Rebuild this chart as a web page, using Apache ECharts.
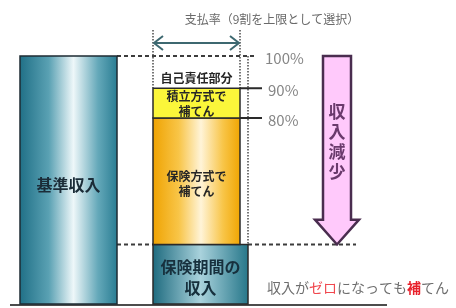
<!DOCTYPE html>
<html>
<head>
<meta charset="utf-8">
<script src="https://cdn.jsdelivr.net/npm/echarts@6/dist/echarts.min.js"></script>
<style>
  html, body { margin: 0; padding: 0; background: #fff; }
  #chart { width: 456px; height: 308px; }
</style>
</head>
<body>
<div id="chart"></div>
<script>
// diagram levels (not to scale): 100 = top of base income
const baseLabel = '基準収入';
const baseValue = 100;
const stackLabels = ['保険期間の\n収入', '保険方式で\n補てん', '積立方式で\n補てん', '自己責任部分'];
const stackValues = [24, 51, 12, 13];
const rateLabels = ['100%', '90%', '80%'];
const rateLevels = [100, 87, 75];
const topNote = '支払率（9割を上限として選択）';
const arrowLabel = '収入減少';

const FONT = '"Noto Sans CJK JP", "Noto Sans", sans-serif';
const G = echarts.graphic;

// cumulative stack
let acc = 0;
const stackData = stackValues.map((v, i) => {
  const lo = acc; acc += v;
  return [i, lo, acc];
});
const zeroLevel = stackValues[0];

// horizontal layout (x axis in px-like units)
const baseX = [20, 117];
const stackX = [[153, 248], [153, 240], [153, 240], [153, 240]];

const tealGrad = () => new G.LinearGradient(0, 0, 1, 0, [
  { offset: 0, color: '#1f6f86' },
  { offset: 0.3, color: '#5aa1b3' },
  { offset: 0.55, color: '#eef7f9' },
  { offset: 0.8, color: '#64a8b9' },
  { offset: 1, color: '#287c92' }
]);
const tealGradDark = () => new G.LinearGradient(0, 0, 1, 0, [
  { offset: 0, color: '#1d6a7e' },
  { offset: 0.5, color: '#a9d2dc' },
  { offset: 1, color: '#257689' }
]);
const orangeGrad = () => new G.LinearGradient(0, 0, 1, 0, [
  { offset: 0, color: '#efa200' },
  { offset: 0.3, color: '#f8c548' },
  { offset: 0.55, color: '#fff4d8' },
  { offset: 0.8, color: '#f8c548' },
  { offset: 1, color: '#f1a500' }
]);
const stackFills = [tealGradDark, orangeGrad, () => '#fbf63a', null];
const stackFont = [
  'bold 16px ' + FONT,
  'bold 12px ' + FONT,
  'bold 12px ' + FONT,
  'bold 12px ' + FONT
];
const stackTextOffset = [3, 3, 1, 6];

function renderBase(params, api) {
  const p0 = api.coord([baseX[0], api.value(1)]);
  const p1 = api.coord([baseX[1], 0]);
  return {
    type: 'group',
    children: [
      {
        type: 'rect',
        shape: { x: p0[0], y: p0[1], width: p1[0] - p0[0], height: p1[1] - p0[1] },
        style: { fill: tealGrad(), stroke: '#1e2b33', lineWidth: 1.5 }
      },
      {
        type: 'text',
        style: {
          text: baseLabel, x: (p0[0] + p1[0]) / 2, y: (p0[1] + p1[1]) / 2 + 5,
          align: 'center', verticalAlign: 'middle',
          font: 'bold 16px ' + FONT, fill: '#1b2c38'
        }
      }
    ]
  };
}

function renderStack(params, api) {
  const i = api.value(0);
  const xr = stackX[i];
  const p0 = api.coord([xr[0], api.value(2)]);
  const p1 = api.coord([xr[1], api.value(1)]);
  const children = [];
  if (stackFills[i]) {
    children.push({
      type: 'rect',
      shape: { x: p0[0], y: p0[1], width: p1[0] - p0[0], height: p1[1] - p0[1] },
      style: { fill: stackFills[i](), stroke: '#2a2a2a', lineWidth: 1.5 }
    });
  }
  children.push({
    type: 'text',
    style: {
      text: stackLabels[i], x: (p0[0] + p1[0]) / 2, y: (p0[1] + p1[1]) / 2 + stackTextOffset[i],
      align: 'center', verticalAlign: 'middle', lineHeight: i === 0 ? 21 : 15,
      font: stackFont[i], fill: i === 0 ? '#17303d' : '#262626'
    }
  });
  return { type: 'group', children };
}

function renderGuides(params, api) {
  const top = api.coord([0, baseValue])[1];
  const zeroY = api.coord([0, zeroLevel])[1];
  const bottom = api.coord([0, 0])[1];
  const x = v => api.coord([v, 0])[0];
  const dash = { stroke: '#3c3c3c', lineWidth: 2, lineDash: [4, 3] };
  const dots = { stroke: '#4a4a4a', lineWidth: 1.5, lineDash: [1.5, 1.5] };
  const line = (x1, y1, x2, y2, style) => ({ type: 'line', shape: { x1, y1, x2, y2 }, style });
  const children = [];

  // baseline
  children.push(line(x(10), bottom + 1, x(387), bottom + 1, { stroke: '#111', lineWidth: 1.5 }));
  // dashed level lines
  children.push(line(x(117), top, x(256), top, dash));
  children.push(line(x(117), zeroY, x(153), zeroY, dash));
  children.push(line(x(248), zeroY, x(356), zeroY, dash));
  // dotted verticals
  const y90 = api.coord([0, rateLevels[1]])[1];
  children.push(line(x(153), 30, x(153), y90, dots));
  children.push(line(x(240), 30, x(240), y90, dots));
  children.push(line(x(248), top, x(248), zeroY, dots));
  // double arrow
  const ay = 43, ac = '#3d6870';
  children.push(line(x(154), ay, x(239), ay, { stroke: ac, lineWidth: 2 }));
  children.push({ type: 'polyline', shape: { points: [[x(163), ay - 7], [x(154), ay], [x(163), ay + 7]] }, style: { stroke: ac, lineWidth: 2, fill: null } });
  children.push({ type: 'polyline', shape: { points: [[x(230), ay - 7], [x(239), ay], [x(230), ay + 7]] }, style: { stroke: ac, lineWidth: 2, fill: null } });
  // top note
  children.push({
    type: 'text',
    style: { text: topNote, x: x(272), y: 19, align: 'center', verticalAlign: 'middle', font: 'normal 12px ' + FONT, fill: '#6a6a6a' }
  });
  // rate ticks + labels
  rateLevels.forEach((lv, k) => {
    const yy = api.coord([0, lv])[1];
    if (k > 0) children.push(line(x(240), yy, x(262), yy, { stroke: '#2a2a2a', lineWidth: 2 }));
    children.push({
      type: 'text',
      style: { text: rateLabels[k], x: x(k === 0 ? 265 : 268), y: yy + 2, align: 'left', verticalAlign: 'middle', font: 'normal 15px ' + FONT, fill: '#858585' }
    });
  });
  // down arrow (income decrease)
  const headY = api.coord([0, 34])[1];
  children.push({
    type: 'polygon',
    shape: {
      points: [
        [x(323), top], [x(351), top], [x(351), headY], [x(359), headY],
        [x(337), zeroY], [x(315), headY], [x(323), headY]
      ]
    },
    style: { fill: '#ffc9fb', stroke: '#4a2d4f', lineWidth: 2.5, lineJoin: 'miter' }
  });
  children.push({
    type: 'text',
    style: {
      text: arrowLabel.split('').join('\n'), x: x(337), y: 142, align: 'center', verticalAlign: 'middle',
      lineHeight: 20, font: 'bold 17px ' + FONT, fill: '#6a3a6c'
    }
  });
  // bottom note
  children.push({
    type: 'text',
    style: {
      text: '{g|収入が}{r|ゼロ}{g|になっても}{b|補}{g|てん}',
      x: x(267), y: 288, align: 'left', verticalAlign: 'middle',
      font: 'normal 14px ' + FONT,
      rich: {
        g: { fill: '#6e6e6e', font: 'normal 14px ' + FONT },
        r: { fill: '#f0484f', font: 'normal 14px ' + FONT },
        b: { fill: '#e8202a', font: 'bold 14px ' + FONT }
      }
    }
  });
  return { type: 'group', children };
}

const chart = echarts.init(document.getElementById('chart'), null, { renderer: 'canvas' });
chart.setOption({
  animation: false,
  backgroundColor: '#fff',
  grid: { left: 0, right: 0, top: 56, bottom: 4 },
  xAxis: { type: 'value', min: 0, max: 456, show: false },
  yAxis: { type: 'value', min: 0, max: 100, show: false },
  series: [
    { type: 'custom', name: 'guides-under', clip: false, silent: true, renderItem: renderGuides, data: [[0]], z: 1 },
    { type: 'custom', name: baseLabel, clip: false, renderItem: renderBase, data: [[0, baseValue]], z: 2 },
    { type: 'custom', name: 'stack', clip: false, renderItem: renderStack, data: stackData, z: 3 }
  ]
});
</script>
</body>
</html>
